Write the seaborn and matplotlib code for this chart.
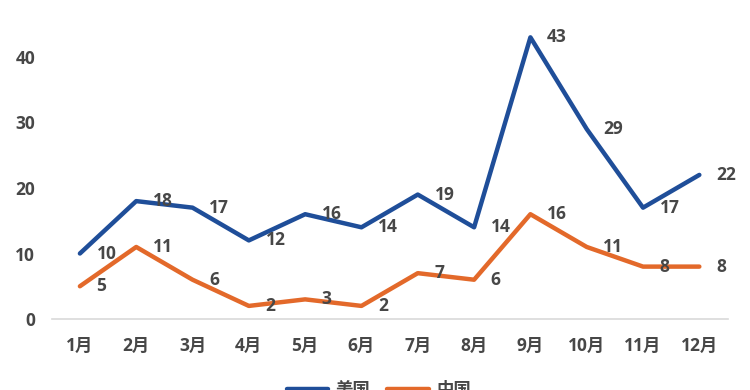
import matplotlib
matplotlib.use("Agg")
import matplotlib.pyplot as plt
import seaborn as sns
import pandas as pd

months = ['1月', '2月', '3月', '4月', '5月', '6月', '7月', '8月', '9月', '10月', '11月', '12月']
usa = [10, 18, 17, 12, 16, 14, 19, 14, 43, 29, 17, 22]
china = [5, 11, 6, 2, 3, 2, 7, 6, 16, 11, 8, 8]
series_names = ['美国', '中国']
colors = ['#1F4E99', '#E3692A']

sns.set_style('white')
plt.rcParams['font.family'] = ['Open Sans', 'Noto Sans CJK SC', 'DejaVu Sans']

df = pd.DataFrame({'month': months * 2,
                   'idx': list(range(12)) * 2,
                   'value': usa + china,
                   'country': [series_names[0]] * 12 + [series_names[1]] * 12})

fig = plt.figure(figsize=(7.5, 3.9), dpi=100)
ax = fig.add_axes([0.069, 0.182, 0.901, 0.818])

sns.lineplot(data=df, x='idx', y='value', hue='country', palette=colors,
             linewidth=3.2, ax=ax, legend=False)

text_color = '#474747'
fs = 12.5
for vals in (usa, china):
    for i, v in enumerate(vals):
        ax.annotate(str(v), (i, v), xytext=(12, 0), textcoords='offset points',
                    ha='left', va='center', fontsize=fs, fontweight='bold',
                    color=text_color)

ax.set_xlim(-0.5, 11.5)
ax.set_ylim(0, 48.7)
ax.set_yticks([0, 10, 20, 30, 40])
ax.set_xticks(range(12))
ax.set_xticklabels(months)
ax.tick_params(axis='x', length=0, labelsize=fs, labelcolor=text_color, pad=13)
ax.tick_params(axis='y', length=0, labelsize=fs, labelcolor=text_color, pad=12)
for lab in ax.get_xticklabels() + ax.get_yticklabels():
    lab.set_fontweight('bold')
ax.set_xlabel('')
ax.set_ylabel('')
sns.despine(ax=ax, left=True)
ax.spines['bottom'].set_color('#D9D9D9')
ax.spines['bottom'].set_linewidth(1.2)

handles = [plt.Line2D([], [], color=c, linewidth=3.2) for c in colors]
fig.legend(handles, series_names, loc='center', bbox_to_anchor=(0.505, 0.0),
           ncol=2, frameon=False, handlelength=2.4, handletextpad=0.4,
           columnspacing=1.0, prop={'size': fs, 'weight': 'bold'},
           labelcolor=text_color)

fig.savefig('out.png', dpi=100)
